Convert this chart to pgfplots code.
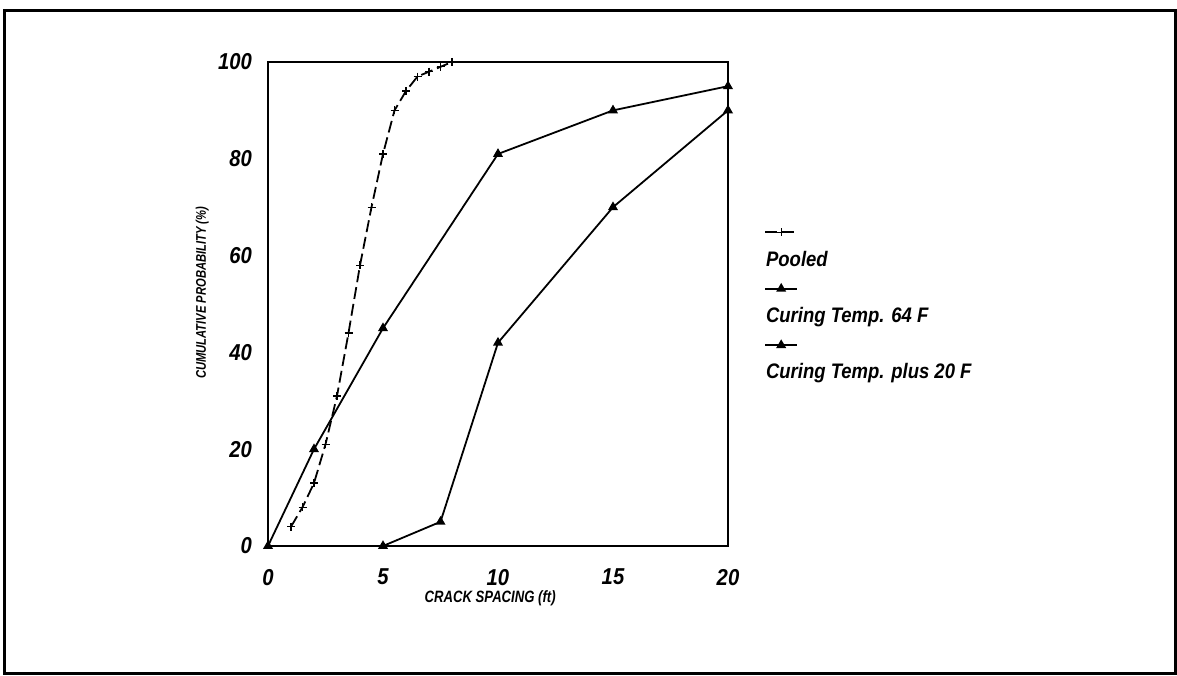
\documentclass[border=0pt]{standalone}
\usepackage{fontspec}
\setmainfont{Liberation Sans}[FakeStretch=0.88]
\newfontfamily\narrowfont{Liberation Sans}[FakeStretch=0.8]
\usepackage{pgfplots}
\pgfplotsset{compat=1.18}

\begin{document}
\begin{tikzpicture}
\useasboundingbox (-134pt,-64.5pt) rectangle (454.5pt,273pt);
\draw[line width=1.5pt] (-131.5pt,-63.5pt) rectangle (453.5pt,267.5pt);
\begin{axis}[
    at={(0,0)}, anchor=south west,
    scale only axis,
    width=230pt, height=242pt,
    xmin=0, xmax=20, ymin=0, ymax=100,
    xtick={0,5,10,15,20},
    ytick={0,20,40,60,80,100},
    major tick length=0pt,
    axis line style={line width=1pt},
    /pgf/number format/assume math mode=true,
    ticklabel style={font=\fontsize{11.5}{12}\selectfont\bfseries\itshape},
    xticklabel style={yshift=-8pt},
    yticklabel style={xshift=-4.5pt},
    xlabel={CRACK SPACING (ft)},
    ylabel={CUMULATIVE PROBABILITY (\%)},
    x label style={at={(axis description cs:0.483,-0.107)}, anchor=center,
        font=\narrowfont\fontsize{8.2}{9}\selectfont\bfseries\itshape},
    y label style={at={(axis description cs:-0.143,0.523)}, anchor=center,
        font=\narrowfont\fontsize{7}{8}\selectfont\bfseries\itshape},
    legend style={at={(1.065,0.683)}, anchor=north west, draw=none, fill=none,
        font=\fontsize{10.5}{11}\selectfont\bfseries\itshape,
        row sep=1.6pt,
        nodes={inner sep=1pt, text height=8pt, text depth=2.5pt}},
    legend image code/.code={
        \draw[mark repeat=2,mark phase=2,#1] plot coordinates {(0pt,0pt) (8pt,0pt) (16pt,0pt)};
    },
    legend cell align=left,
]
\addplot[black, line width=0.9pt, dash pattern=on 6pt off 2.5pt,
    mark=+, mark size=2pt, mark options={solid, line width=0.6pt}] coordinates {
    (1,4) (1.5,8) (2,13) (2.5,21) (3,31) (3.5,44) (4,58) (4.5,70) (5,81)
    (5.5,90) (6,94) (6.5,97) (7,98) (7.5,99) (8,100)
};
\addlegendentry{}
\addlegendimage{empty legend}
\addlegendentry{\hspace*{-17pt}Pooled}

\addplot[black, line width=0.9pt, mark=triangle*, mark size=2pt] coordinates {
    (0,0) (2,20) (5,45) (10,81) (15,90) (20,95)
};
\addlegendentry{}
\addlegendimage{empty legend}
\addlegendentry{\hspace*{-17pt}Curing Temp. 64 F}

\addplot[black, line width=0.9pt, mark=triangle*, mark size=2pt] coordinates {
    (5,0) (7.5,5) (10,42) (15,70) (20,90)
};
\addlegendentry{}
\addlegendimage{empty legend}
\addlegendentry{\hspace*{-17pt}Curing Temp. plus 20 F}
\end{axis}
\end{tikzpicture}
\end{document}
